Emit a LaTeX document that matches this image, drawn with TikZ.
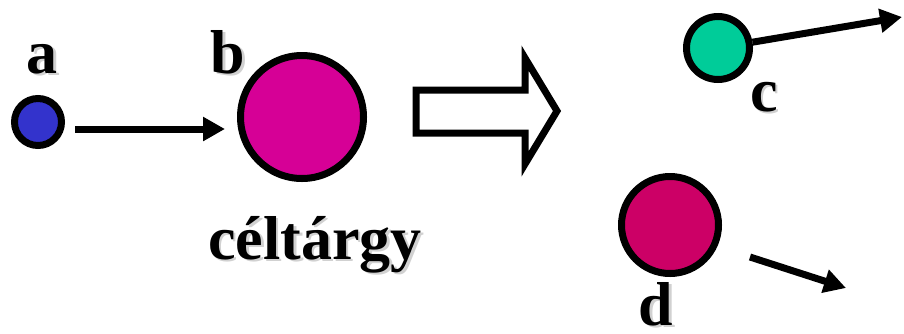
\documentclass[tikz,border=0pt]{standalone}
\usepackage{fontspec}
\setmainfont{Liberation Serif}
\usepackage{xcolor}
\usepackage{tikz}
\usetikzlibrary{arrows.meta}

\definecolor{ballblue}{RGB}{51,51,204}
\definecolor{ballpink}{RGB}{214,0,150}
\definecolor{ballgreen}{RGB}{0,204,153}
\definecolor{ballred}{RGB}{204,0,102}

% bold text with a soft grey drop shadow
\newcommand{\shd}[1]{\rlap{\kern2.5pt\raisebox{-2.5pt}{\color{black!18}#1}}#1}

\tikzset{
    ball/.style={circle,draw=black,line width=7pt,inner sep=0pt},
    lbl/.style={anchor=base,inner sep=0pt,font=\fontsize{62}{62}\selectfont\bfseries},
    arr/.style={line width=7pt,-{Triangle[length=22pt,width=23pt]}}
}

\begin{document}
\begin{tikzpicture}[x=1pt,y=-1pt]
    \useasboundingbox (0,0) rectangle (904,333);

    \node[ball,fill=ballblue,minimum size=47pt] (a) at (38,122) {};
    \node[ball,fill=ballpink,minimum size=123pt] (b) at (302,117) {};
    \node[ball,fill=ballgreen,minimum size=63pt] (c) at (718,48) {};
    \node[ball,fill=ballred,minimum size=97pt] (d) at (670,225) {};

    \node[lbl] (la) at (42,73) {\shd{a}};
    \node[lbl] (lb) at (228,73) {\shd{b}};
    \node[lbl] (lc) at (764,111) {\shd{c}};
    \node[lbl] (ld) at (656,325) {\shd{d}};
    \node[lbl] (target) at (315,259) {\shd{céltárgy}};

    \draw[arr] ([shift={(10,7)}]a.east) -- ([shift={(-12,12)}]b.west);

    % outline arrow in the middle
    \draw[line width=7pt,miter limit=4] (416,90) -- (525,90) -- (525,58) -- (557,111)
        -- (525,164) -- (525,133) -- (416,133) -- cycle;

    \coordinate (ctip) at (902,17);
    \draw[arr] (c) -- (ctip);

    \coordinate (dfrom) at (750,257);
    \coordinate (dto) at (846,288);
    \draw[arr] (dfrom) -- (dto);
\end{tikzpicture}
\end{document}
